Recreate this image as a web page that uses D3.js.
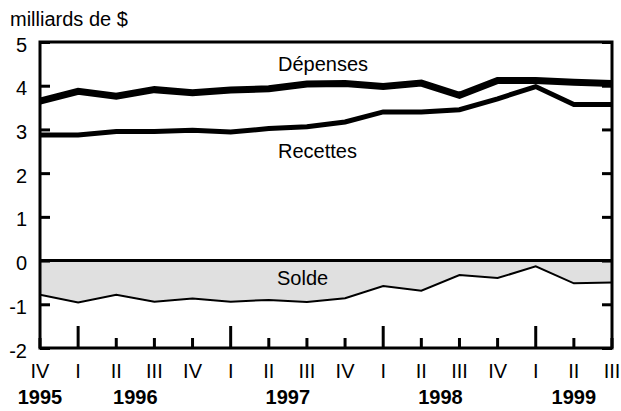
<!DOCTYPE html>
<html>
<head>
<meta charset="utf-8">
<script src="https://cdn.jsdelivr.net/npm/d3@7"></script>
<style>
  body { margin: 0; background: #fff; }
  svg text { font-family: "Liberation Sans", Arial, sans-serif; fill: #000; }
</style>
</head>
<body>
<div id="chart"></div>
<script>
// Data (quarterly, 1995 Q4 to 1999 Q3, billions of $)
var quarters = ["IV", "I", "II", "III", "IV", "I", "II", "III", "IV", "I", "II", "III", "IV", "I", "II", "III"];
var depenses = [3.65, 3.87, 3.76, 3.91, 3.84, 3.90, 3.93, 4.04, 4.05, 3.98, 4.06, 3.78, 4.12, 4.12, 4.08, 4.05];
var recettes = [2.87, 2.87, 2.95, 2.95, 2.98, 2.94, 3.02, 3.06, 3.17, 3.40, 3.40, 3.45, 3.70, 3.98, 3.57, 3.57];
var solde = [-0.78, -0.96, -0.78, -0.94, -0.87, -0.94, -0.90, -0.95, -0.86, -0.58, -0.69, -0.33, -0.40, -0.13, -0.52, -0.50];
var yearLabels = ["1995", "1996", "1997", "1998", "1999"];
var yearPos = [0, 2.5, 6.5, 10.5, 14];   // index position under the quarters
var yTicks = [5, 4, 3, 2, 1, 0, -1, -2];

var svgWidth = 621;
var svgHeight = 411;
var margin = { top: 42, right: 9, bottom: 63, left: 40 };
var width = svgWidth - margin.left - margin.right;
var height = svgHeight - margin.top - margin.bottom;

var svg = d3.select("#chart")
  .append("svg")
  .attr("width", svgWidth)
  .attr("height", svgHeight);

svg.append("defs").append("clipPath")
  .attr("id", "plot-clip")
  .append("rect")
  .attr("width", width)
  .attr("height", height);

var g = svg.append("g")
  .attr("transform", `translate(${margin.left}, ${margin.top})`);

var plot = g.append("g").attr("clip-path", "url(#plot-clip)");

var idx = d3.range(quarters.length);

var x = d3.scaleLinear()
  .domain([0, quarters.length - 1])
  .range([0, width]);

var y = d3.scaleLinear()
  .domain([-2, 5])
  .range([height, 0]);

// balance area (shaded between 0 and the line)
var area = d3.area()
  .x(i => x(i))
  .y0(y(0))
  .y1(i => y(solde[i]));

plot.append("path")
  .datum(idx)
  .attr("d", area)
  .attr("fill", "#e0e0e0");

// zero line
plot.append("line")
  .attr("x1", 0).attr("x2", width)
  .attr("y1", y(0)).attr("y2", y(0))
  .attr("stroke", "#000")
  .attr("stroke-width", 3);

function drawLine(values, w) {
  var line = d3.line()
    .x(i => x(i))
    .y(i => y(values[i]));
  plot.append("path")
    .datum(idx)
    .attr("d", line)
    .attr("fill", "none")
    .attr("stroke", "#000")
    .attr("stroke-width", w);
}

drawLine(solde, 2);
drawLine(recettes, 5);
drawLine(depenses, 7);

// frame
g.append("rect")
  .attr("width", width)
  .attr("height", height)
  .attr("fill", "none")
  .attr("stroke", "#000")
  .attr("stroke-width", 3);

// y ticks on both sides, pointing inward
var leftAxis = d3.axisLeft(y).tickValues(yTicks).tickSize(-10).tickPadding(13).tickFormat(d => String(d));
var rightAxis = d3.axisRight(y).tickValues(yTicks).tickSize(-10).tickFormat("");

var la = g.append("g").call(leftAxis);
la.select(".domain").remove();
la.selectAll(".tick line").attr("stroke", "#000").attr("stroke-width", 3);
la.selectAll(".tick text")
  .attr("font-size", 20)
  .attr("dy", "0.45em")
  .style("font-family", "'Liberation Sans', Arial, sans-serif");

var ra = g.append("g").attr("transform", `translate(${width},0)`).call(rightAxis);
ra.select(".domain").remove();
ra.selectAll(".tick line").attr("stroke", "#000").attr("stroke-width", 3);

// x ticks: taller at first quarter
g.selectAll(".xtick")
  .data(idx)
  .enter()
  .append("line")
  .attr("class", "xtick")
  .attr("x1", i => x(i)).attr("x2", i => x(i))
  .attr("y1", height)
  .attr("y2", i => height - (quarters[i] === "I" ? 22 : 10))
  .attr("stroke", "#000")
  .attr("stroke-width", 3);

g.selectAll(".qlabel")
  .data(idx)
  .enter()
  .append("text")
  .attr("class", "qlabel")
  .attr("x", i => x(i))
  .attr("y", height + 30)
  .attr("text-anchor", "middle")
  .attr("font-size", 20)
  .text(i => quarters[i]);

g.selectAll(".ylabel")
  .data(yearLabels)
  .enter()
  .append("text")
  .attr("class", "ylabel")
  .attr("x", (d, i) => x(yearPos[i]))
  .attr("y", height + 56)
  .attr("text-anchor", "middle")
  .attr("font-size", 20)
  .attr("font-weight", "bold")
  .text(d => d);

// unit label
svg.append("text")
  .attr("x", 10)
  .attr("y", 26)
  .attr("font-size", 20)
  .text("milliards de $");

// series labels
svg.append("text").attr("x", 278).attr("y", 71).attr("font-size", 20).text("Dépenses");
svg.append("text").attr("x", 278).attr("y", 158).attr("font-size", 20).text("Recettes");
svg.append("text").attr("x", 277).attr("y", 285).attr("font-size", 20).text("Solde");
</script>
</body>
</html>
